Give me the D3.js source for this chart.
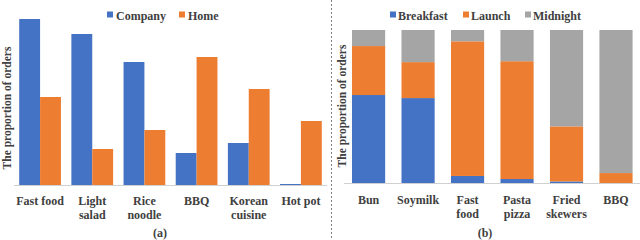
<!DOCTYPE html>
<html>
  <head>
    <meta charset="utf-8">
    <title>Order proportions</title>
    <script src="https://cdnjs.cloudflare.com/ajax/libs/d3/7.8.5/d3.min.js"></script>
    <style>
      body { margin: 0; background: #fff; }
      svg text { font-family: 'Liberation Serif', 'DejaVu Serif', 'Times New Roman', Times, serif; font-weight: bold; fill: #404040; }
    </style>
  </head>
  <body>
    <script>
      // panel (a) data
      var placesA = ["Fast food", "Light salad", "Rice noodle", "BBQ", "Korean cuisine", "Hot pot"];
      var seriesA = ["Company", "Home"];
      var company = [0.166, 0.151, 0.123, 0.032, 0.042, 0.001];
      var home = [0.088, 0.036, 0.055, 0.128, 0.096, 0.064];

      // panel (b) data
      var foodsB = ["Bun", "Soymilk", "Fast food", "Pasta pizza", "Fried skewers", "BBQ"];
      var seriesB = ["Breakfast", "Launch", "Midnight"];
      var breakfast = [0.575, 0.555, 0.046, 0.026, 0.01, 0.0];
      var launch = [0.32, 0.235, 0.88, 0.77, 0.36, 0.065];
      var midnight = [0.105, 0.21, 0.074, 0.204, 0.63, 0.935];

      var colors = ["#4472C4", "#ED7D31", "#A5A5A5"];

      var svg = d3.select("body").append("svg")
        .attr("width", 640)
        .attr("height", 240);

      // panel (a) keeps "Fast food" and "Hot pot" on one line
      function linesA(name) {
        if (name === "Fast food" || name === "Hot pot") return [name];
        return name.split(" ");
      }

      // ---------- panel (a) ----------
      var baseA = 185;
      var xA = d3.scaleBand().domain(placesA).range([14, 327]).paddingInner(0.2).paddingOuter(0.1);
      var xSub = d3.scaleBand().domain(seriesA).range([0, xA.bandwidth()]);
      var yA = d3.scaleLinear().domain([0, 0.17]).range([baseA, 15]);

      var rowsA = placesA.map(function (p, i) { return { place: p, vals: [company[i], home[i]] }; });

      var gA = svg.append("g");
      var groups = gA.selectAll("g.cat").data(rowsA).enter().append("g")
        .attr("transform", function (d) { return "translate(" + xA(d.place) + ",0)"; });

      groups.selectAll("rect").data(function (d) {
        return d.vals.map(function (v, j) { return { s: seriesA[j], v: v, j: j }; });
      }).enter().append("rect")
        .attr("x", function (d) { return xSub(d.s); })
        .attr("width", xSub.bandwidth())
        .attr("y", function (d) { return yA(d.v); })
        .attr("height", function (d) { return baseA - yA(d.v); })
        .attr("fill", function (d) { return colors[d.j]; });

      gA.append("line")
        .attr("x1", 14).attr("x2", 327).attr("y1", baseA + 0.5).attr("y2", baseA + 0.5)
        .attr("stroke", "#d0d0d0");

      gA.selectAll("text.xl").data(placesA).enter().append("text")
        .attr("class", "xl")
        .attr("text-anchor", "middle")
        .attr("font-size", 12)
        .attr("y", 205)
        .selectAll("tspan").data(function (d) { return linesA(d); }).enter().append("tspan")
        .attr("x", function () { var p = d3.select(this.parentNode).datum(); return xA(p) + xA.bandwidth() / 2; })
        .attr("dy", function (d, i) { return i ? 14 : 0; })
        .text(function (d) { return d; });

      // legend (a)
      var legA = gA.selectAll("g.leg").data(seriesA).enter().append("g")
        .attr("transform", function (d, i) { return "translate(" + [107, 179][i] + ",16)"; });
      legA.append("rect").attr("y", -4.5).attr("width", 6).attr("height", 6)
        .attr("fill", function (d, i) { return colors[i]; });
      legA.append("text").attr("x", 9).attr("y", 3.5).attr("font-size", 12).text(function (d) { return d; });

      gA.append("text")
        .attr("transform", "translate(10.5,108) rotate(-90)")
        .attr("text-anchor", "middle")
        .attr("font-size", 11.5)
        .text("The proportion of orders");

      gA.append("text").attr("x", 160).attr("y", 237).attr("text-anchor", "middle")
        .attr("font-size", 12).text("(a)");

      // divider
      svg.append("line")
        .attr("x1", 331.5).attr("x2", 331.5).attr("y1", 0).attr("y2", 240)
        .attr("stroke", "#808080").attr("stroke-dasharray", "2,2");

      // ---------- panel (b) ----------
      var baseB = 183;
      var xB = d3.scaleBand().domain(foodsB).range([343.6, 641]).paddingInner(0.33).paddingOuter(0.17);
      var yB = d3.scaleLinear().domain([0, 1]).range([baseB, 30]);

      var rowsB = foodsB.map(function (f, i) {
        return { food: f, Breakfast: breakfast[i], Launch: launch[i], Midnight: midnight[i] };
      });
      var stacked = d3.stack().keys(seriesB)(rowsB);

      var gB = svg.append("g");
      gB.selectAll("g.layer").data(stacked).enter().append("g")
        .attr("fill", function (d, i) { return colors[i]; })
        .selectAll("rect").data(function (d) { return d; }).enter().append("rect")
        .attr("x", function (d) { return xB(d.data.food); })
        .attr("width", xB.bandwidth())
        .attr("y", function (d) { return yB(d[1]); })
        .attr("height", function (d) { return yB(d[0]) - yB(d[1]); });

      gB.append("line")
        .attr("x1", 344).attr("x2", 640).attr("y1", baseB + 0.5).attr("y2", baseB + 0.5)
        .attr("stroke", "#d0d0d0");

      gB.selectAll("text.xl").data(foodsB).enter().append("text")
        .attr("class", "xl")
        .attr("text-anchor", "middle")
        .attr("font-size", 12)
        .attr("y", 204)
        .selectAll("tspan").data(function (d) { return d.split(" "); }).enter().append("tspan")
        .attr("x", function () { var p = d3.select(this.parentNode).datum(); return xB(p) + xB.bandwidth() / 2; })
        .attr("dy", function (d, i) { return i ? 14 : 0; })
        .text(function (d) { return d; });

      var legB = gB.selectAll("g.leg").data(seriesB).enter().append("g")
        .attr("transform", function (d, i) { return "translate(" + [390, 463, 525][i] + ",16)"; });
      legB.append("rect").attr("y", -4.5).attr("width", 6).attr("height", 6)
        .attr("fill", function (d, i) { return colors[i]; });
      legB.append("text").attr("x", 8).attr("y", 3.5).attr("font-size", 12).text(function (d) { return d; });

      gB.append("text")
        .attr("transform", "translate(346,106) rotate(-90)")
        .attr("text-anchor", "middle")
        .attr("font-size", 11.5)
        .text("The proportion of orders");

      gB.append("text").attr("x", 485).attr("y", 237).attr("text-anchor", "middle")
        .attr("font-size", 12).text("(b)");
    </script>
  </body>
</html>
